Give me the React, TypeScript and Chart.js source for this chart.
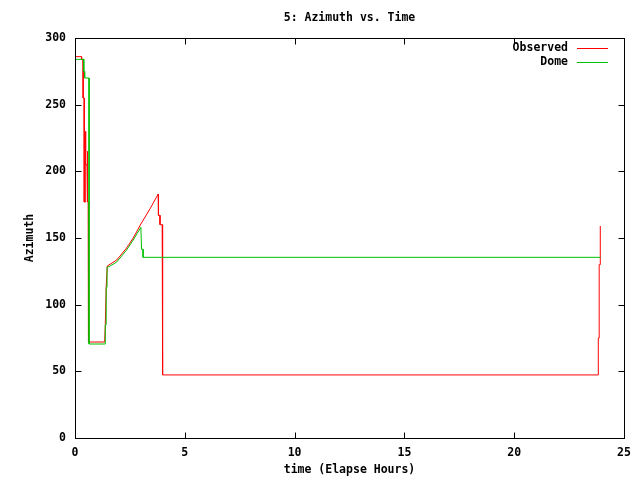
import React, { useEffect, useRef } from "react";
import { Chart, registerables } from "chart.js";

Chart.register(...registerables);

const titleText = "5: Azimuth vs. Time";
const xTitle = "time (Elapse Hours)";
const yTitle = "Azimuth";
const seriesNames = ["Observed", "Dome"];
const seriesColors = ["#ff0000", "#00c000"];

const xTicks = [0, 5, 10, 15, 20, 25];
const yTicks = [0, 50, 100, 150, 200, 250, 300];

const observedTime = [
  -0.05, 0.3, 0.3, 0.37, 0.37, 0.42, 0.42, 0.46, 0.46, 0.5, 0.5, 0.55, 0.55, 0.58, 0.58, 0.6, 0.6, 0.61,
  0.63, 0.8, 1.35, 1.38, 1.42, 1.47, 1.9, 2.35, 2.65, 3.0, 3.42, 3.79, 3.8, 3.87, 3.87, 3.97, 3.97, 4.0, 4.0,
  23.83, 23.83, 23.87, 23.87, 23.92, 23.92,
];
const observedAzimuth = [
  286, 286, 284, 284, 255, 255, 177, 177, 230, 230, 205, 205, 215, 215, 177, 177, 120, 106,
  72, 72, 72, 85, 113, 129, 133.5, 142.5, 150, 160.5, 172, 183, 167, 167, 160, 160, 103.5, 103.5, 47.3,
  47.3, 75, 75, 130, 130, 159,
];

const domeTime = [
  -0.05, 0.4, 0.4, 0.44, 0.44, 0.64, 0.64, 1.38, 1.38, 1.42, 1.42, 1.46, 1.46, 1.6, 1.9, 2.35, 2.65, 3.0,
  3.03, 3.1, 3.1, 23.93,
];
const domeAzimuth = [
  284, 284, 275, 275, 270, 270, 70.5, 70.5, 85, 85, 113, 113, 128, 129, 132, 141, 148.5, 158,
  141.5, 141.5, 135.5, 135.5,
];

const FONT = '"DejaVu Sans Mono", "Liberation Mono", monospace';

const framePlugin = {
  id: "gnuplotFrame",
  afterDraw(chart: any) {
    const { ctx, chartArea } = chart;
    const { left, top, right, bottom } = chartArea;
    const xs = chart.scales.x;
    const ys = chart.scales.y;
    ctx.save();
    ctx.strokeStyle = "#000";
    ctx.lineWidth = 1;
    const L = Math.round(left) + 0.5;
    const R = Math.round(right) + 0.5;
    const T = Math.round(top) + 0.5;
    const B = Math.round(bottom) + 0.5;
    ctx.strokeRect(L, T, R - L, B - T);
    ctx.beginPath();
    for (const v of xTicks) {
      const px = Math.round(xs.getPixelForValue(v)) + 0.5;
      ctx.moveTo(px, B);
      ctx.lineTo(px, B - 6);
      ctx.moveTo(px, T);
      ctx.lineTo(px, T + 6);
    }
    for (const v of yTicks) {
      const py = Math.round(ys.getPixelForValue(v)) + 0.5;
      ctx.moveTo(L, py);
      ctx.lineTo(L + 6, py);
      ctx.moveTo(R, py);
      ctx.lineTo(R - 6, py);
    }
    ctx.stroke();

    ctx.fillStyle = "#000";
    ctx.font = "bold 11.5px " + FONT;
    ctx.textBaseline = "middle";
    ctx.textAlign = "center";
    const cx = (left + right) / 2;
    ctx.fillText(titleText, cx, 18);
    ctx.fillText(xTitle, cx, 470);
    ctx.save();
    ctx.translate(30, (top + bottom) / 2);
    ctx.rotate(-Math.PI / 2);
    ctx.fillText(yTitle, 0, 0);
    ctx.restore();

    // legend
    ctx.textAlign = "right";
    seriesNames.forEach((name, i) => {
      const ly = Math.round(top + 10 + i * 14) + 0.5;
      ctx.fillStyle = "#000";
      ctx.fillText(name, right - 56, ly);
      ctx.strokeStyle = seriesColors[i];
      ctx.beginPath();
      ctx.moveTo(right - 47, ly);
      ctx.lineTo(right - 16, ly);
      ctx.stroke();
    });
    ctx.restore();
  },
};

export default function App() {
  const ref = useRef<HTMLCanvasElement>(null);
  useEffect(() => {
    if (!ref.current) return;
    const obs = observedTime.map((t, i) => ({ x: t, y: observedAzimuth[i] }));
    const dome = domeTime.map((t, i) => ({ x: t, y: domeAzimuth[i] }));
    const chart = new Chart(ref.current, {
      type: "line",
      data: {
        datasets: [
          {
            label: seriesNames[0],
            data: obs,
            borderColor: seriesColors[0],
            borderWidth: 1,
            pointRadius: 0,
            tension: 0,
            fill: false,
            order: 1,
          },
          {
            label: seriesNames[1],
            data: dome,
            borderColor: seriesColors[1],
            borderWidth: 1,
            pointRadius: 0,
            tension: 0,
            fill: false,
            order: 0,
          },
        ],
      },
      options: {
        animation: false,
        responsive: false,
        maintainAspectRatio: false,
        layout: { padding: { left: 0, top: 38, right: 16, bottom: 0 } },
        plugins: {
          legend: { display: false },
          tooltip: { enabled: false },
          title: { display: false },
        },
        scales: {
          x: {
            type: "linear",
            min: 0,
            max: 25,
            afterFit: (s: any) => {
              s.height = 42;
            },
            afterBuildTicks: (s: any) => {
              s.ticks = xTicks.map((v) => ({ value: v }));
            },
            grid: { display: false, drawTicks: false },
            border: { display: false },
            ticks: {
              color: "#000",
              padding: 8,
              maxRotation: 0,
              font: { family: FONT, size: 11.5, weight: "bold" },
            },
          },
          y: {
            type: "linear",
            min: 0,
            max: 300,
            afterFit: (s: any) => {
              s.width = 75;
            },
            afterBuildTicks: (s: any) => {
              s.ticks = yTicks.map((v) => ({ value: v }));
            },
            grid: { display: false, drawTicks: false },
            border: { display: false },
            ticks: {
              color: "#000",
              padding: 9,
              font: { family: FONT, size: 11.5, weight: "bold" },
            },
          },
        },
      },
      plugins: [framePlugin],
    });
    return () => chart.destroy();
  }, []);
  return (
    <div style={{ position: "fixed", left: 0, top: 0, width: 640, height: 480, background: "#fff" }}>
      <canvas ref={ref} width={640} height={480} style={{ width: 640, height: 480 }} />
    </div>
  );
}
